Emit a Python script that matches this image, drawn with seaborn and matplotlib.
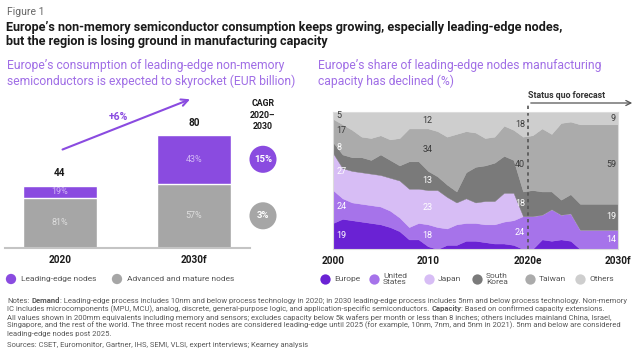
import matplotlib.pyplot as plt
import numpy as np
import pandas as pd
import seaborn as sns

sns.set_theme(style='white')
plt.rcParams['font.family'] = ['Roboto', 'DejaVu Sans']

# left panel: consumption (EUR billion) and shares
bar_cats = ['2020', '2030f']
bar_totals = [44, 80]
leading_share = [19, 43]
mature_share = [81, 57]
cagr_total = '+6%'
cagr_segments = ['15%', '3%']

# right panel: share of leading-edge capacity (%)
years = list(range(2000, 2031))
europe = [19, 22, 21, 20, 19, 18, 16, 13, 7, 7, 2, 0, 3, 3, 6, 6, 5, 4, 4, 3, 0,
          0, 7, 6, 7, 6, 0, 0, 0, 0, 0]
us = [24, 15, 13, 13, 13, 13, 12, 10, 9, 12, 16, 16, 12, 15, 13, 13, 13, 14, 16, 18, 24,
      24, 18, 23, 18, 20, 14, 14, 14, 14, 14]
japan = [27, 22, 23, 23, 23, 23, 24, 27, 28, 25, 25, 27, 23, 16, 18, 15, 17, 17, 21, 20, 0,
         0, 0, 0, 0, 0, 0, 0, 0, 0, 0]
korea = [8, 10, 10, 11, 10, 15, 13, 11, 20, 20, 14, 10, 9, 8, 19, 26, 26, 28, 27, 24, 18,
         19, 17, 13, 11, 14, 19, 19, 19, 19, 19]
taiwan = [17, 22, 20, 15, 16, 14, 15, 20, 24, 24, 31, 33, 35, 42, 30, 25, 20, 19, 22, 22, 40,
          40, 46, 42, 56, 53, 58, 58, 58, 58, 58]
others = [5, 9, 13, 18, 19, 17, 20, 19, 12, 12, 12, 14, 18, 16, 14, 15, 19, 18, 10, 13, 18,
          17, 12, 16, 8, 7, 9, 9, 9, 9, 9]
regions = ['Europe', 'United\nStates', 'Japan', 'South\nKorea', 'Taiwan', 'Others']

# printed values in the area chart
label_years = [2000, 2010, 2020, 2030]
europe_lbl = [19, 0, 0, 0]
us_lbl = [24, 18, 24, 14]
japan_lbl = [27, 23, 0, 0]
korea_lbl = [8, 13, 18, 19]
taiwan_lbl = [17, 34, 40, 59]
others_lbl = [5, 12, 18, 9]

purple = '#8a4be0'
grey = '#a6a6a6'
lavender = '#a06ee6'
area_colors = ['#6a22d4', '#a673ea', '#d7bdf5', '#7a7a7a', '#ababab', '#cecece']

W, H = 642, 357


def box(x0, y0, x1, y1):
    return [x0 / W, 1 - y1 / H, (x1 - x0) / W, (y1 - y0) / H]


fig = plt.figure(figsize=(W / 100, H / 100), dpi=100)
ax_bar = fig.add_axes(box(5, 90, 250, 248))
ax_area = fig.add_axes(box(333, 112, 618, 249))
over = fig.add_axes([0, 0, 1, 1])
over.set_xlim(0, W)
over.set_ylim(H, 0)
over.axis('off')
renderer = fig.canvas.get_renderer()

# ---- headings
over.text(7, 12, 'Figure 1', fontsize=7.5, color='#666666', va='center')
over.text(6, 27, 'Europe’s non-memory semiconductor consumption keeps growing, especially leading-edge nodes,',
          fontsize=9.1, fontweight='bold', color='#1a1a1a', va='center')
over.text(6, 42, 'but the region is losing ground in manufacturing capacity',
          fontsize=9.1, fontweight='bold', color='#1a1a1a', va='center')
sub_kw = dict(fontsize=8.7, color=lavender, va='center')
over.text(7, 65, 'Europe’s consumption of leading-edge non-memory', **sub_kw)
over.text(7, 81, 'semiconductors is expected to skyrocket (EUR billion)', **sub_kw)
over.text(318, 65, 'Europe’s share of leading-edge nodes manufacturing', **sub_kw)
over.text(318, 81, 'capacity has declined (%)', **sub_kw)

# ---- left: stacked bars
df = pd.DataFrame({'year': bar_cats, 'total': bar_totals})
df['mature'] = [t * s / 100 for t, s in zip(bar_totals, mature_share)]
sns.barplot(data=df, x='year', y='total', color=purple, width=0.552, saturation=1,
            errorbar=None, ax=ax_bar)
sns.barplot(data=df, x='year', y='mature', color=grey, width=0.552, saturation=1,
            errorbar=None, ax=ax_bar)
ax_bar.set_xlim(-0.41, 1.418)
ax_bar.set_ylim(0, 158 / 1.4125)
for s in ['top', 'left', 'right']:
    ax_bar.spines[s].set_visible(False)
ax_bar.spines['bottom'].set_color('#c4c4c4')
ax_bar.spines['bottom'].set_linewidth(1.5)
ax_bar.set_xlabel('')
ax_bar.set_ylabel('')
ax_bar.set_yticks([])
ax_bar.tick_params(axis='x', length=0, pad=5)
for lab in ax_bar.get_xticklabels():
    lab.set_fontweight('bold')
    lab.set_fontsize(7.2)
    lab.set_color('#1a1a1a')

for i, (tot, lead, mat) in enumerate(zip(bar_totals, leading_share, mature_share)):
    mat_val = tot * mat / 100
    lead_val = tot - mat_val
    ax_bar.text(i, mat_val + lead_val / 2, f'{lead}%', ha='center', va='center',
                fontsize=6.5, color='#d2b8f5')
    ax_bar.text(i, mat_val / 2, f'{mat}%', ha='center', va='center', fontsize=6.5, color='#dedede')
    ax_bar.annotate(str(tot), (i, tot), xytext=(0, 9), textcoords='offset points',
                    ha='center', va='center', fontsize=7.2, fontweight='bold', color='#1a1a1a')

# CAGR bubbles next to the 2030 bar
tot = bar_totals[1]
mat_val = tot * mature_share[1] / 100
seg_centres = [mat_val + (tot - mat_val) / 2, mat_val / 2]
cx = 1 + (263 - 194) / 134
ax_bar.scatter([cx, cx], seg_centres, s=380, color=[purple, grey], clip_on=False, linewidth=0)
for y, txt in zip(seg_centres, cagr_segments):
    ax_bar.text(cx, y, txt, ha='center', va='center', fontsize=6.8, fontweight='bold', color='white')
over.text(263, 115, 'CAGR\n2020–\n2030', ha='center', va='center', fontsize=6.3,
          fontweight='bold', color='#1a1a1a', linespacing=1.35)

ax_bar.annotate('', xy=(0.99, 106), xytext=(0, 69),
                arrowprops=dict(arrowstyle='->', color=purple, lw=1.5, mutation_scale=12),
                annotation_clip=False)
over.text(118, 117, cagr_total, ha='center', va='center', fontsize=7.5, fontweight='bold', color=purple)

# ---- right: stacked area
ax_area.stackplot(years, europe, us, japan, korea, taiwan, others, colors=area_colors,
                  edgecolor='face', linewidth=0.3)
ax_area.set_xlim(2000, 2030)
ax_area.set_ylim(0, 100)
for s in ax_area.spines.values():
    s.set_color('#dcdcdc')
    s.set_linewidth(0.8)
ax_area.set_yticks([])
ax_area.set_xticks([2000, 2010, 2020.5, 2030], ['2000', '2010', '2020e', '2030f'])
ax_area.tick_params(axis='x', length=0, pad=5)
for lab in ax_area.get_xticklabels():
    lab.set_fontweight('bold')
    lab.set_fontsize(7.2)
    lab.set_color('#1a1a1a')

series = [europe, us, japan, korea, taiwan, others]
printed = [europe_lbl, us_lbl, japan_lbl, korea_lbl, taiwan_lbl, others_lbl]
text_cols = ['white', 'white', 'white', 'white', '#3a3a3a', '#3a3a3a']
col_x = [2000.35, 2009.4, 2020.2, 2029.8]
col_ha = ['left', 'left', 'right', 'right']
for j, yr in enumerate(label_years):
    k = years.index(yr)
    base = 0
    for vals, lbls, tc in zip(series, printed, text_cols):
        v = vals[k]
        if lbls[j] > 0:
            ax_area.text(col_x[j], base + v / 2, str(lbls[j]), ha=col_ha[j], va='center',
                         fontsize=6.5, color=tc)
        base += v

ax_area.axvline(2020.5, ymin=0, ymax=1.066, color='#555555', ls=(0, (2, 2)), lw=1.2, clip_on=False)
over.text(528, 95, 'Status quo forecast', fontsize=6.3, fontweight='bold', color='#333333', va='center')
over.annotate('', xy=(635, 103), xytext=(528, 103),
              arrowprops=dict(arrowstyle='->', color='#555555', lw=0.9, mutation_scale=9))

# ---- legends
leg_y = 279
leg_kw = dict(fontsize=6.0, color='#555555', va='center', linespacing=1.0)
over.scatter([11, 117], [leg_y, leg_y], s=55, color=[purple, grey], linewidth=0)
over.text(21, leg_y, 'Leading-edge nodes', **leg_kw)
over.text(127, leg_y, 'Advanced and mature nodes', **leg_kw)
marker_x = [325, 374, 429, 477, 530, 580]
for mx, name, c in zip(marker_x, regions, area_colors):
    over.scatter([mx], [leg_y], s=55, color=c, linewidth=0)
    over.text(mx + 9, leg_y, name, **leg_kw)


# ---- notes, with bold keywords drawn as separate pieces
def rich_line(x, y, parts, size=5.5):
    for txt, bold, gap in parts:
        t = over.text(x, y, txt, fontsize=size, color='#595959', va='center',
                      fontweight='bold' if bold else 'normal')
        x += t.get_window_extent(renderer).width + gap


sp = 2.0
notes = [
    [('Notes:', False, sp), ('Demand', True, 0),
     (': Leading-edge process includes 10nm and below process technology in 2020; in 2030 leading-edge process includes 5nm and below process technology. Non-memory', False, 0)],
    [('IC includes microcomponents (MPU, MCU), analog, discrete, general-purpose logic, and application-specific semiconductors.', False, sp),
     ('Capacity', True, 0), (': Based on confirmed capacity extensions.', False, 0)],
    [('All values shown in 200mm equivalents including memory and sensors; excludes capacity below 5k wafers per month or less than 8 inches; others includes mainland China, Israel,', False, 0)],
    [('Singapore, and the rest of the world. The three most recent nodes are considered leading-edge until 2025 (for example, 10nm, 7nm, and 5nm in 2021). 5nm and below are considered', False, 0)],
    [('leading-edge nodes post 2025.', False, 0)],
]
for i, parts in enumerate(notes):
    rich_line(7, 300.7 + i * 8.3, parts)
rich_line(7, 345.3, [('Sources: CSET, Euromonitor, Gartner, IHS, SEMI, VLSI, expert interviews; Kearney analysis', False, 0)])

fig.savefig('out.png', dpi=100)
